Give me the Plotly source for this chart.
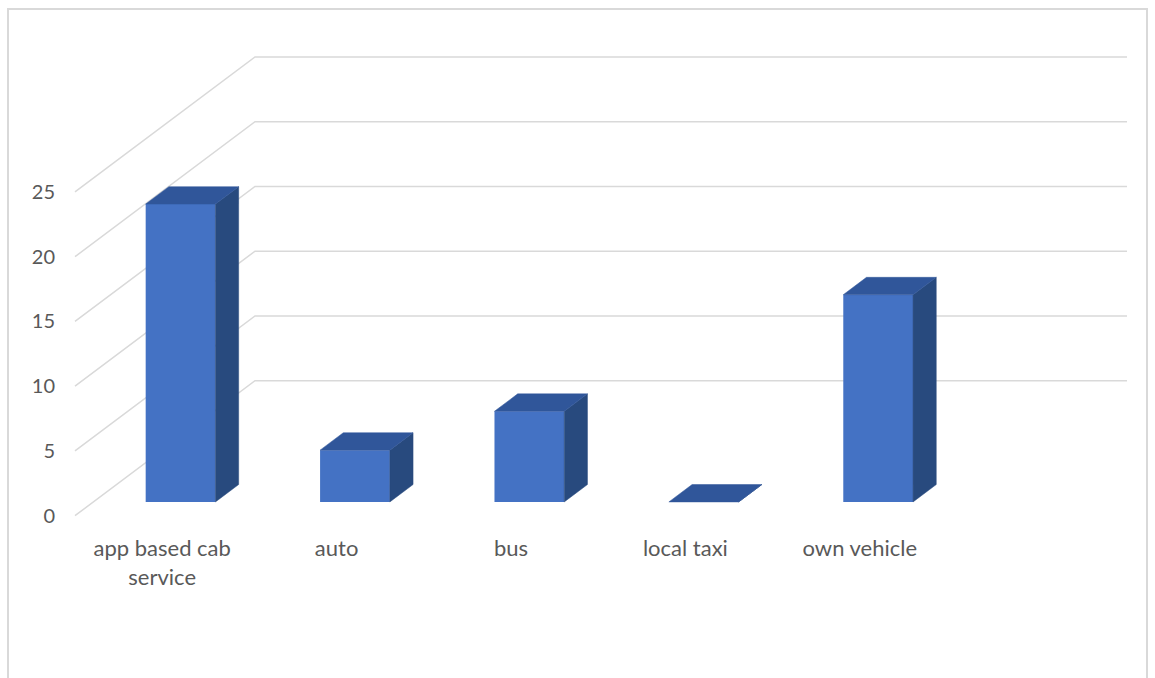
import plotly.graph_objects as go

# Commute mode counts
categories = ["app based cab service", "auto", "bus", "local taxi", "own vehicle"]
tick_text = ["app based cab<br>service", "auto", "bus", "local taxi", "own vehicle"]
counts = [23, 4, 7, 0, 16]
y_ticks = [0, 5, 10, 15, 20, 25]

# Oblique projection of the 3-D box: one unit of depth shifts a point
# right (in category units) and up (in value units).
PX_PER_CAT = 174.4
PX_PER_VAL = 12.95
DEPTH_DX = 180 / PX_PER_CAT
DEPTH_DY = 135 / PX_PER_VAL
BAR_FRONT = 0.102      # depth of the bars' front face
BAR_BACK = 0.231       # depth of the bars' back face
BAR_WIDTH = 0.4        # fraction of a category slot

FRONT = "#4472C4"
TOP = "#30569A"
SIDE = "#284A7E"
GRID = "#D9D9D9"
TEXT = "#595959"

W, H = 1155, 678
ORIGIN_X, ORIGIN_Y = 75, 515.7       # pixel of (category 0, value 0, depth 0)
AREA_L, AREA_R, AREA_T, AREA_B = 60, 1140, 45, 530


def proj(x, v, d):
    return x + d * DEPTH_DX, v + d * DEPTH_DY


fig = go.Figure()
n = len(categories)

# Walls: left-wall diagonals and back-wall horizontals at every tick value,
# kept in the shape layer beneath the columns
shapes = []
for v in y_ticks:
    x0, y0 = proj(0, v, 0)
    x1, y1 = proj(0, v, 1)
    x2, y2 = proj(n, v, 1)
    shapes.append(dict(type="path", xref="x", yref="y", layer="below",
                       path=f"M{x0},{y0} L{x1},{y1} L{x2},{y2}",
                       line=dict(color=GRID, width=1.5)))

# Side and top faces of each column
for i, v in enumerate(counts):
    xl = i + 0.5 - BAR_WIDTH / 2
    xr = i + 0.5 + BAR_WIDTH / 2
    # right side face
    pts = [proj(xr, 0, BAR_FRONT), proj(xr, v, BAR_FRONT),
           proj(xr, v, BAR_BACK), proj(xr, 0, BAR_BACK)]
    fig.add_trace(go.Scatter(x=[p[0] for p in pts] + [pts[0][0]],
                             y=[p[1] for p in pts] + [pts[0][1]],
                             mode="lines", fill="toself", fillcolor=SIDE,
                             line=dict(color=SIDE, width=0.5),
                             hoverinfo="skip", showlegend=False))
    # top face
    pts = [proj(xl, v, BAR_FRONT), proj(xr, v, BAR_FRONT),
           proj(xr, v, BAR_BACK), proj(xl, v, BAR_BACK)]
    fig.add_trace(go.Scatter(x=[p[0] for p in pts] + [pts[0][0]],
                             y=[p[1] for p in pts] + [pts[0][1]],
                             mode="lines", fill="toself", fillcolor=TOP,
                             line=dict(color=TOP, width=0.5),
                             hoverinfo="skip", showlegend=False))

# Front faces
front_x = [i + 0.5 + BAR_FRONT * DEPTH_DX for i in range(n)]
fig.add_trace(go.Bar(x=front_x, y=counts, base=BAR_FRONT * DEPTH_DY,
                     width=BAR_WIDTH, marker=dict(color=FRONT, line=dict(width=0)),
                     customdata=categories,
                     hovertemplate="%{customdata}: %{y}<extra></extra>",
                     showlegend=False))

x_range = [(AREA_L - ORIGIN_X) / PX_PER_CAT, (AREA_R - ORIGIN_X) / PX_PER_CAT]
y_range = [(ORIGIN_Y - AREA_B) / PX_PER_VAL, (ORIGIN_Y - AREA_T) / PX_PER_VAL]

# Chart-area border
shapes.append(dict(type="rect", xref="paper", yref="paper",
                   x0=8 / W, x1=1147 / W, y0=-20 / H, y1=1 - 9 / H,
                   line=dict(color=GRID, width=2), fillcolor="rgba(0,0,0,0)",
                   layer="below"))

fig.update_layout(
    width=W, height=H,
    margin=dict(l=0, r=0, t=0, b=0),
    paper_bgcolor="white", plot_bgcolor="rgba(0,0,0,0)",
    font=dict(family="Lato, Carlito, sans-serif", size=20, color=TEXT),
    xaxis=dict(domain=[AREA_L / W, AREA_R / W], range=x_range,
               tickmode="array", tickvals=[i + 0.5 for i in range(n)], ticktext=tick_text,
               tickfont=dict(size=22),
               showgrid=False, zeroline=False, showline=False, ticks="",
               ticklabelstandoff=3, automargin=False, fixedrange=True),
    yaxis=dict(domain=[1 - AREA_B / H, 1 - AREA_T / H], range=y_range,
               anchor="free", position=ORIGIN_X / W,
               tickmode="array", tickvals=y_ticks,
               showgrid=False, zeroline=False, showline=False, ticks="",
               ticklabelstandoff=20, automargin=False, fixedrange=True),
    shapes=shapes,
)

fig.write_html("out.html")
